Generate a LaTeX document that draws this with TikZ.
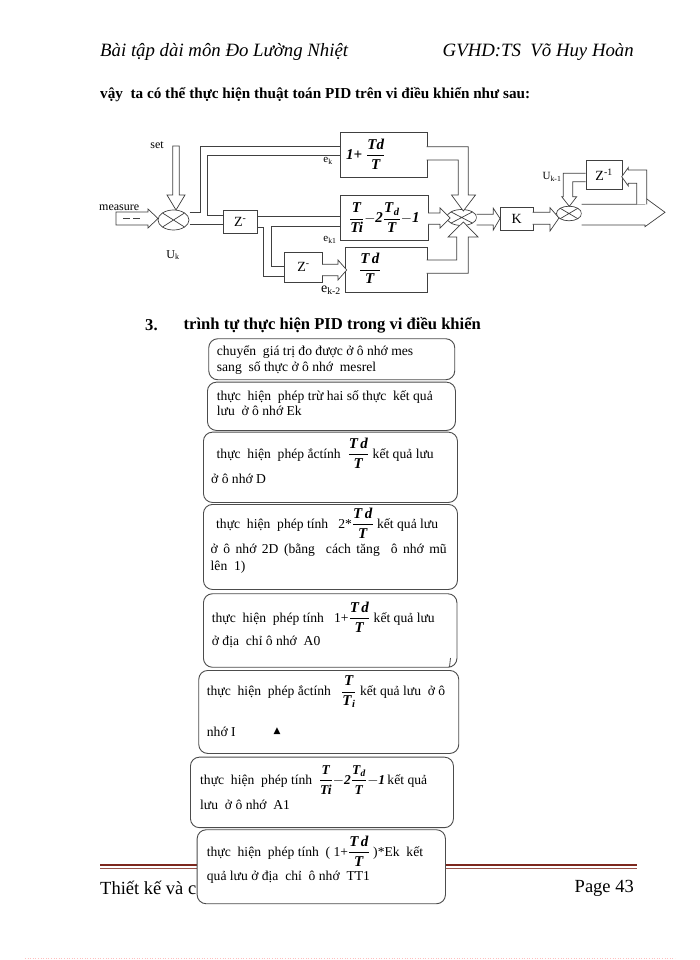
\documentclass[tikz,border=0pt]{standalone}
\usepackage{amsmath}
\usepackage{fontspec}
\setmainfont{Liberation Serif}
\newfontfamily\dejavu{DejaVu Sans}
\usetikzlibrary{shapes.geometric}
\newcommand{\bi}[1]{\textbf{\textit{#1}}}
\newcommand{\fr}[2]{\dfrac{\bi{#1}}{\bi{#2}}}
\newcommand{\bigfr}[1]{{\fontsize{15}{16}\selectfont #1}}
\newcommand{\pidexpr}{\fr{T}{Ti}{-}\bi{2}\dfrac{\bi{T}_{\bi{d}}}{\bi{T}}{-}\bi{1}}
\definecolor{footbrown}{RGB}{125,40,30}
\begin{document}
\begin{tikzpicture}[x=1pt,y=-1pt,
  ln/.style={draw=black!75, line width=0.7pt},
  pipe/.style={ln, fill=white, line join=miter},
  blk/.style={ln, fill=white, inner sep=0pt, anchor=north west},
  fbox/.style={draw=black!70, line width=0.9pt, fill=white, rounded corners=9pt, inner sep=0pt, anchor=north west},
  txt/.style={anchor=west, inner sep=0pt, font=\fontsize{13.6}{15}\selectfont},
  lbl/.style={inner sep=0pt, font=\fontsize{12}{14}\selectfont},
  hdr/.style={inner sep=0pt, anchor=west, font=\fontsize{18.8}{20}\selectfont\itshape}
]
\useasboundingbox (0,0) rectangle (700,960);
\fill[white] (0,0) rectangle (700,960);

% header
\node[hdr] (h1) at (100,52) {Bài tập dài môn Đo Lường Nhiệt};
\node[hdr, anchor=east] (h2) at (634,52) {GVHD:TS\ \ Võ Huy Hoàn};
\node[inner sep=0pt, anchor=west, font=\fontsize{15.2}{17}\selectfont\bfseries] (intro) at (100,95)
  {vậy\ \ ta có thể thực hiện thuật toán PID trên vi điều khiển như sau:};

% ---------------- block diagram ----------------
\node[lbl] (set) at (157,145) {set};
\node[lbl, anchor=west] (meas) at (99,208) {measure};
\node[lbl] (uk) at (173,255) {U\textsubscript{k}};

% set arrow
\draw[pipe] (172.7,146) -- (179.3,146) -- (179.3,195) -- (185,195) -- (176,210) -- (167,195) -- (172.7,195) -- cycle;
% measure arrow
\draw[pipe] (116,212) -- (148,212) -- (148,209) -- (158,218.5) -- (148,228) -- (148,225) -- (116,225) -- cycle;
\draw[ln] (123,218.5) -- (130,218.5) (133,218.5) -- (140,218.5);

% junction 1
\node[ellipse, ln, fill=white, minimum width=31pt, minimum height=20pt, inner sep=0pt] (j1) at (173.5,220) {};
\draw[ln] (162.5,213) -- (184.5,227) (162.5,227) -- (184.5,213);

% boxes
\node[blk, minimum width=86.7pt, minimum height=45pt] (b1) at (340,131.7) {};
\node[inner sep=0pt, anchor=west, font=\fontsize{15}{16}\selectfont] (b1l) at (346,154.2) {$\bi{1+}\;\fr{Td}{T}$};
\node[blk, minimum width=88pt, minimum height=45pt] (b2) at (340,195)
  {\fontsize{15}{16}\selectfont $\pidexpr$};
\node[blk, minimum width=81.7pt, minimum height=45pt] (b3) at (345,246.7) {};
\node[inner sep=0pt, font=\fontsize{15}{16}\selectfont] (b3l) at (370,268.5) {$\fr{T\,d}{T}$};
\node[blk, minimum width=34.6pt, minimum height=23.3pt] (z1) at (222.7,210)
  {\fontsize{14}{16}\selectfont Z\textsuperscript{-}};
\node[blk, minimum width=37.7pt, minimum height=30pt] (z2) at (284.3,251.7)
  {\fontsize{14}{16}\selectfont Z\textsuperscript{-}};

\node[lbl, font=\fontsize{11}{12}\selectfont] (ek) at (328,161) {e\textsubscript{k}};
\node[lbl, font=\fontsize{11}{12}\selectfont] (ek1) at (330,240) {e\textsubscript{k1}};
\node[lbl, font=\fontsize{14}{14}\selectfont] (ek2) at (331,290) {e\textsubscript{k-2}};

% pipe from junction 1 to box1 and Z1
\draw[ln] (189.5,212.3) -- (200,212.3) -- (200,146.7) -- (340,146.7);
\draw[ln] (340,155) -- (207,155) -- (207,215) -- (222.7,215);
\draw[ln] (189.5,224.3) -- (222.7,224.3);
% Z1 to box2 and Z2
\draw[ln] (257.3,216.7) -- (340,216.7);
\draw[ln] (340,226.7) -- (271.7,226.7) -- (271.7,266.7) -- (284.3,266.7);
\draw[ln] (257.3,227.7) -- (263.3,227.7) -- (263.3,276.7) -- (284.3,276.7);
% Z2 to box3
\draw[pipe] (322,264.3) -- (338,264.3) -- (338,260) -- (346.7,270) -- (338,280) -- (338,275.7) -- (322,275.7);

% junction 2
\node[ellipse, ln, fill=white, minimum width=30pt, minimum height=16pt, inner sep=0pt] (j2) at (461.7,217.5) {};
\draw[ln] (451,211.9) -- (472.4,223.1) (451,223.1) -- (472.4,211.9);
% box1 -> j2
\draw[pipe] (426.7,146.7) -- (468.3,146.7) -- (468.3,195) -- (475.5,195) -- (463.3,211) -- (451.5,195) -- (458.3,195) -- (458.3,160) -- (426.7,160);
% box2 -> j2
\draw[pipe] (428,213) -- (440,213) -- (440,208) -- (450,218) -- (440,228) -- (440,224.3) -- (428,224.3);
% box3 -> j2
\draw[pipe] (426.7,260) -- (456.7,260) -- (456.7,237) -- (448,237) -- (463.3,222) -- (478,237) -- (468.3,237) -- (468.3,273.3) -- (426.7,273.3);
% j2 -> K
\draw[pipe] (476.7,214.3) -- (493.3,214.3) -- (493.3,208.3) -- (500,218.5) -- (493.3,230) -- (493.3,225) -- (476.7,225);
\node[blk, minimum width=32.7pt, minimum height=23.3pt] (k) at (500,206.7) {\fontsize{14}{16}\selectfont K};
% K -> j3
\draw[pipe] (532.7,212.3) -- (550,212.3) -- (550,207.7) -- (559,218) -- (550,231) -- (550,224.3) -- (532.7,224.3);
% junction 3
\node[ellipse, ln, fill=white, minimum width=25pt, minimum height=14.6pt, inner sep=0pt] (j3) at (569,213.5) {};
\draw[ln] (560.2,208.3) -- (577.8,218.7) (560.2,218.7) -- (577.8,208.3);
% Z^-1
\node[blk, minimum width=36pt, minimum height=29.3pt] (zi) at (585.7,160) {\fontsize{14}{16}\selectfont Z\textsuperscript{-1}};
\node[lbl, font=\fontsize{11}{12}\selectfont] (uk1) at (552,177) {U\textsubscript{k-1}};
\draw[pipe] (585.7,173.3) -- (563.3,173.3) -- (563.3,196.7) -- (561.7,196.7) -- (569.3,206.3) -- (576.7,196.7) -- (572.7,196.7) -- (572.7,181.7) -- (585.7,181.7);
% output
\draw[pipe] (581.5,204.3) -- (645,204.3) -- (645,197.7) -- (665,212.3) -- (645,226.7) -- (645,225) -- (581.5,225);
% feedback
\draw[pipe] (636.7,204.3) -- (636.7,183.3) -- (628.3,183.3) -- (628.3,186) -- (621.7,176.7) -- (628.3,167.5) -- (628.3,170) -- (646.7,170) -- (646.7,204.3);

% ---------------- section 3 ----------------
\node[inner sep=0pt, anchor=west, font=\fontsize{16.6}{18}\selectfont\bfseries] (n3) at (145,325) {3.};
\node[inner sep=0pt, anchor=west, font=\fontsize{16.6}{18}\selectfont\bfseries] (t3) at (183.5,325) {trình tự thực hiện PID trong vi điều khiển};

% footer (under box H)
\draw[footbrown, line width=2.6pt] (100,865) -- (637,865);
\draw[footbrown!80, line width=0.8pt] (100,868.5) -- (637,868.5);
\node[inner sep=0pt, anchor=west, font=\fontsize{18.5}{20}\selectfont] (f1) at (100,888) {Thiết kế và c};
\node[inner sep=0pt, anchor=east, font=\fontsize{18.5}{20}\selectfont] (f2) at (634,888) {Page 43};
\draw[pink, dotted, line width=0.6pt] (25,958) -- (675,958);

% flow boxes
\node[fbox, minimum width=246pt, minimum height=41pt] (s1) at (208.3,338.3) {};
\node[txt] (s1a) at (216.7,351.7) {chuyển\ \ giá trị đo được ở ô nhớ mes};
\node[txt] (s1b) at (216.7,368.3) {sang\ \ số thực ở ô nhớ\ \ mesrel};

\node[fbox, minimum width=248pt, minimum height=48.3pt] (s2) at (207,381.7) {};
\node[txt] (s2a) at (216.7,396.7) {thực\ \ hiện\ \ phép trừ hai số thực\ \ kết quả};
\node[txt] (s2b) at (216.7,411) {lưu\ \ ở ô nhớ Ek};

\node[fbox, minimum width=254pt, minimum height=70.3pt] (s3) at (203,431.7) {};
\node[txt] (s3a) at (216.5,453) {thực\ \ hiện\ \ phép ắctính\ \ \bigfr{$\fr{T\,d}{T}$} kết quả lưu};
\node[txt] (s3b) at (211,478.5) {ở ô nhớ D};

\node[fbox, minimum width=254pt, minimum height=85pt] (s4) at (203,504) {};
\node[txt] (s4a) at (216,523) {thực\ \ hiện\ \ phép tính\ \ \ 2*\bigfr{$\fr{T\,d}{T}$} kết quả lưu};
\node[txt] (s4b) at (210.5,550) {\makebox[236pt][s]{ở ô nhớ 2D (bằng\ \ cách tăng\ \ ô nhớ mũ}};
\node[txt] (s4c) at (210.5,567) {lên\ \ 1)};

\node[fbox, minimum width=253.5pt, minimum height=73.5pt] (s5) at (203,593.3) {};
\node[txt] (s5a) at (211.7,617) {thực\ \ hiện\ \ phép tính\ \ \ 1+\bigfr{$\fr{T\,d}{T}$} kết quả lưu};
\node[txt] (s5b) at (211.7,641.7) {ở địa\ \ chỉ ô nhớ\ \ A0};
\draw[black!70, line width=0.8pt] (450.5,658) -- (449.5,667);

\node[fbox, minimum width=260pt, minimum height=83pt] (s6) at (198.3,670) {};
\node[txt] (s6a) at (206.7,692) {thực\ \ hiện\ \ phép ắctính\ \ \ \bigfr{$\dfrac{\bi{T}}{\bi{T}_{\bi{i}}}$} kết quả lưu\ \ ở ô};
\node[txt] (s6b) at (206.7,731.7) {nhớ I};
\node[inner sep=0pt, font=\dejavu\fontsize{9}{10}\selectfont] (tri) at (277,731) {▲};

\node[fbox, minimum width=263pt, minimum height=70.5pt] (s7) at (190,756.7) {};
\node[txt] (s7a) at (200,780) {thực\ \ hiện\ \ phép tính\ \ {\fontsize{13.5}{15}\selectfont$\pidexpr$}\,kết quả};
\node[txt] (s7b) at (200,805) {lưu\ \ ở ô nhớ\ \ A1};

\node[fbox, minimum width=248.3pt, minimum height=74pt] (s8) at (196.7,829.3) {};
\node[txt] (s8a) at (206.7,851) {thực\ \ hiện\ \ phép tính\ \ ( 1+\bigfr{$\fr{T\,d}{T}$} )*Ek\ \ kết};
\node[txt] (s8b) at (206.7,877) {quả lưu ở địa\ \ chỉ\ \ ô nhớ\ \ TT1};
\end{tikzpicture}
\end{document}
